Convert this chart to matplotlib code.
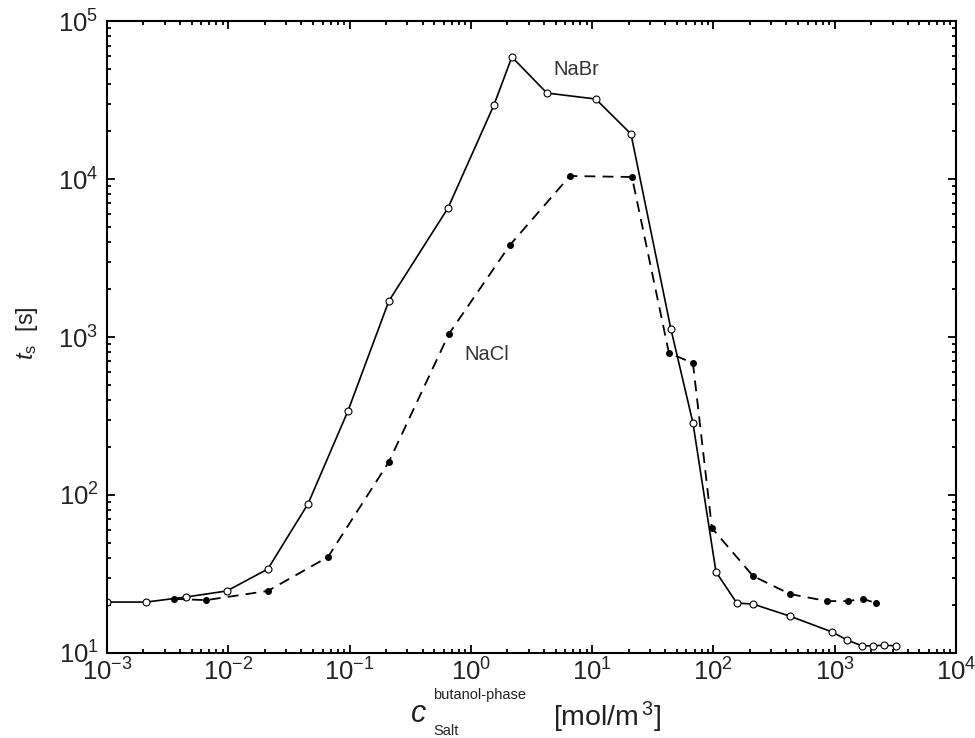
import numpy as np
import matplotlib
matplotlib.use("Agg")
import matplotlib.pyplot as plt

# values (log-log plot)
nabr_c = [0.001, 0.0021, 0.00448, 0.00975, 0.0212, 0.0454, 0.097, 0.211, 0.648,
          1.55, 2.18, 4.24, 10.7, 20.9, 44.6, 67.8, 105, 156, 212, 428, 948,
          1261, 1676, 2065, 2543, 3190]
nabr_t = [21.0, 21.0, 22.6, 24.7, 34.0, 87.7, 340, 1690, 6550,
          29400, 59200, 35000, 32100, 19300, 1125, 286, 32.6, 20.7, 20.4, 17.1, 13.6,
          12.1, 11.1, 11.1, 11.2, 11.1]

nacl_c = [0.00356, 0.00655, 0.0212, 0.0664, 0.211, 0.659, 2.10, 6.56, 21.3,
          43.0, 67.8, 97.2, 212, 428, 863, 1285, 1710, 2190]
nacl_t = [22.0, 21.6, 24.7, 40.5, 162, 1045, 3820, 10450, 10300,
          792, 684, 61.8, 30.7, 23.6, 21.3, 21.3, 22.0, 20.7]

plt.rcParams["font.family"] = ["Liberation Sans", "DejaVu Sans"]
plt.rcParams["mathtext.fontset"] = "custom"
plt.rcParams["mathtext.rm"] = "Liberation Sans"
plt.rcParams["mathtext.it"] = "Liberation Sans:italic"
plt.rcParams["axes.unicode_minus"] = False

txt = "#222222"

fig = plt.figure(figsize=(9.75, 7.38), dpi=100)
ax = fig.add_axes([0.1097, 0.1152, 0.8708, 0.8563])

ax.plot(nabr_c, nabr_t, "-", color="black", lw=1.2, marker="o", ms=5,
        mfc="white", mec="black", mew=0.8)
ax.plot(nacl_c, nacl_t, "--", color="black", lw=1.3, dashes=(6, 4),
        marker="o", ms=4, mfc="black", mec="black")

ax.set_xscale("log")
ax.set_yscale("log")
ax.set_xlim(1e-3, 1e4)
ax.set_ylim(10, 1e5)

for s in ax.spines.values():
    s.set_linewidth(1.5)
ax.tick_params(which="both", direction="in", top=True, right=True, labelsize=18.5,
               width=1.3, labelcolor=txt)
ax.tick_params(which="major", length=6, pad=6)
ax.tick_params(axis="x", which="major", pad=4)
ax.tick_params(which="minor", length=3)

ax.text(7.35, 49700, "NaBr", fontsize=14.5, ha="center", va="center", color="#333333")
ax.text(1.36, 780, "NaCl", fontsize=14.5, ha="center", va="center", color="#333333")

ax.set_ylabel(r"$\mathit{t}_{\mathrm{s}}$  [s]", fontsize=17, color=txt)
ax.yaxis.set_label_coords(-0.079, 0.506)

# x label built from pieces so the super/subscript sit like the original
fig.text(419 / 975, 1 - 714 / 738, "c", fontsize=22, style="italic", ha="center",
         va="center", color=txt)
fig.text(433 / 975, 1 - 695 / 738, "butanol-phase", fontsize=10.5, ha="left",
         va="center", color=txt)
fig.text(433 / 975, 1 - 731 / 738, "Salt", fontsize=10.5, ha="left", va="center", color=txt)
fig.text(553 / 975, 1 - 717 / 738, r"[mol/m$^{\,3}$]", fontsize=20.5, ha="left",
         va="center", color=txt)

fig.savefig("out.png", dpi=100)
